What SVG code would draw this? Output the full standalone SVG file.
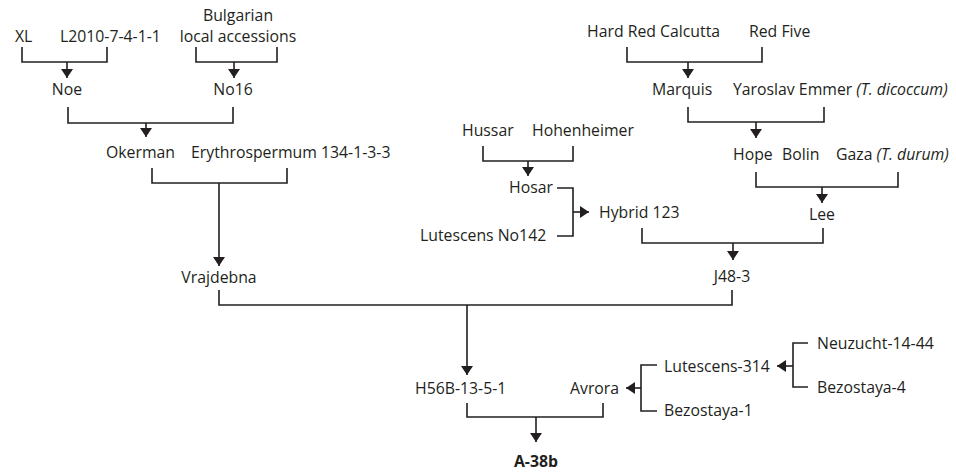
<svg xmlns="http://www.w3.org/2000/svg" width="956" height="472" viewBox="0 0 956 472">
<defs>
<marker id="arr" markerUnits="userSpaceOnUse" markerWidth="9" markerHeight="12" viewBox="0 0 9 12" refX="9" refY="6" orient="auto">
<path d="M0,0 L9,6 L0,12 z" fill="#231f20"/>
</marker>
<style>
text{font-family:"Open Sans","Noto Sans",sans-serif;font-size:15.8px;fill:#231f20}
.b{font-weight:bold}
.i{font-style:italic}
.c{text-anchor:middle}
.ln{fill:none;stroke:#231f20;stroke-width:1.6}
.ar{fill:none;stroke:#231f20;stroke-width:1.6;marker-end:url(#arr)}
</style>
</defs>
<rect width="956" height="472" fill="#fff"/>
<g id="connectors">
<path class="ln" d="M22,47 V62 H107 V47"/><path class="ar" d="M67,62 V78"/>
<path class="ln" d="M196,47 V62 H277 V47"/><path class="ar" d="M234,62 V78"/>
<path class="ln" d="M68,107 V123 H233 V107"/><path class="ar" d="M146,123 V137"/>
<path class="ln" d="M152,168 V183 H287 V168"/><path class="ar" d="M219,183 V266"/>
<path class="ln" d="M219,290 V305 H732 V290"/><path class="ar" d="M467,305 V375"/>
<path class="ln" d="M627,47 V62 H762 V47"/><path class="ar" d="M688,62 V78"/>
<path class="ln" d="M688,107 V122 H824 V107"/><path class="ar" d="M756,122 V138"/>
<path class="ln" d="M483,146 V161 H573 V146"/><path class="ar" d="M528,161 V176"/>
<path class="ln" d="M756,172 V187 H898 V172"/><path class="ar" d="M822,187 V203"/>
<path class="ln" d="M557,188 H573 V236 H557"/><path class="ar" d="M573,212 H589"/>
<path class="ln" d="M642,228 V243 H823 V228"/><path class="ar" d="M733,243 V260"/>
<path class="ln" d="M657,365 H641 V411 H657"/><path class="ar" d="M641,388 H626"/>
<path class="ln" d="M808,343 H793 V387 H808"/><path class="ar" d="M793,366 H777"/>
<path class="ln" d="M467,403 V417 H603 V403"/><path class="ar" d="M536,417 V442"/>
</g>
<g id="n-xl"><text x="15" y="42">XL</text></g>
<g id="n-l2010"><text x="60" y="42">L2010-7-4-1-1</text></g>
<g id="n-bulgarian"><text class="c" x="238" y="21">Bulgarian</text><text class="c" x="238" y="42">local accessions</text></g>
<g id="n-noe"><text class="c" x="67" y="95">Noe</text></g>
<g id="n-no16"><text class="c" x="233" y="95">No16</text></g>
<g id="n-okerman"><text x="106" y="158">Okerman</text></g>
<g id="n-erythrospermum"><text x="191" y="158">Erythrospermum 134-1-3-3</text></g>
<g id="n-vrajdebna"><text class="c" x="219" y="283">Vrajdebna</text></g>
<g id="n-hardred"><text x="587" y="37">Hard Red Calcutta</text></g>
<g id="n-redfive"><text x="749" y="37">Red Five</text></g>
<g id="n-marquis"><text x="652" y="95">Marquis</text></g>
<g id="n-yaroslav"><text x="733" y="95">Yaroslav Emmer <tspan class="i">(T. dicoccum)</tspan></text></g>
<g id="n-hussar"><text x="462" y="136">Hussar</text></g>
<g id="n-hohenheimer"><text x="532" y="136">Hohenheimer</text></g>
<g id="n-hope"><text x="733" y="160">Hope</text></g>
<g id="n-bolin"><text x="782" y="160">Bolin</text></g>
<g id="n-gaza"><text x="836" y="160">Gaza <tspan class="i">(T. durum)</tspan></text></g>
<g id="n-hosar"><text x="509" y="193">Hosar</text></g>
<g id="n-lutescens142"><text x="420" y="241">Lutescens No142</text></g>
<g id="n-hybrid123"><text x="599" y="218">Hybrid 123</text></g>
<g id="n-lee"><text class="c" x="822" y="220">Lee</text></g>
<g id="n-j48"><text class="c" x="732" y="282">J48-3</text></g>
<g id="n-h56b"><text x="415" y="394">H56B-13-5-1</text></g>
<g id="n-avrora"><text x="570" y="394">Avrora</text></g>
<g id="n-lutescens314"><text x="664" y="372">Lutescens-314</text></g>
<g id="n-bezostaya1"><text x="664" y="416">Bezostaya-1</text></g>
<g id="n-neuzucht"><text x="817" y="349">Neuzucht-14-44</text></g>
<g id="n-bezostaya4"><text x="817" y="393">Bezostaya-4</text></g>
<g id="n-a38b"><text class="c b" x="536" y="467">A-38b</text></g>
</svg>
